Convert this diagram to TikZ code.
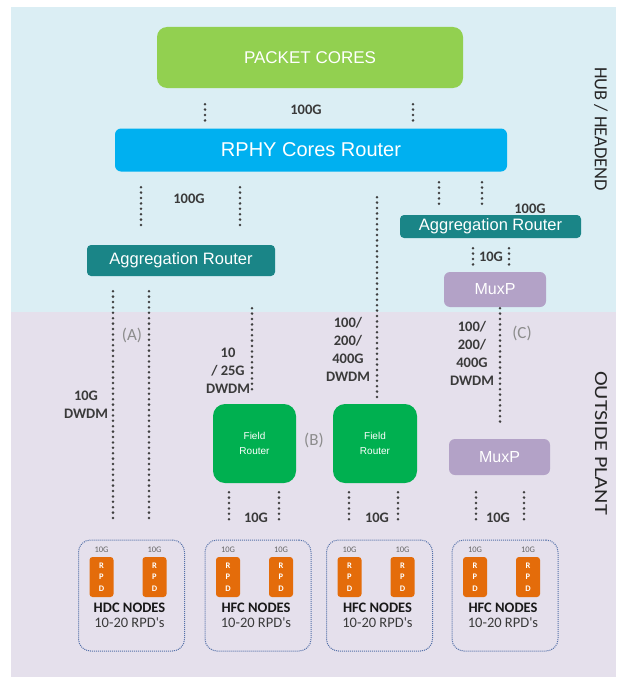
\documentclass[tikz,border=0pt]{standalone}
\usepackage{fontspec}
\setmainfont{Liberation Sans}
\newfontfamily\lblf{Carlito}
\definecolor{topbg}{HTML}{DBEEF4}
\definecolor{botbg}{HTML}{E5E0EC}
\definecolor{pcgreen}{HTML}{92D050}
\definecolor{rphyblue}{HTML}{00B0F0}
\definecolor{aggteal}{HTML}{1A8587}
\definecolor{muxpurple}{HTML}{B3A2C7}
\definecolor{frgreen}{HTML}{00B050}
\definecolor{rpdorange}{HTML}{E46C0A}
\definecolor{dotc}{HTML}{3F3F3F}
\definecolor{lblc}{HTML}{3A3A3A}
\definecolor{parc}{HTML}{8C8C8C}
\definecolor{boxline}{HTML}{5470A8}
\tikzset{
  blk/.style={inner sep=0pt, text=white, align=center},
  dotline/.style={draw=dotc, line width=2.8pt, line cap=round, dash pattern=on 0pt off 5.4pt},
  lbl/.style={inner sep=0pt, text=lblc, align=center, font=\lblf\fontsize{14.5}{18}\selectfont\bfseries},
  par/.style={inner sep=0pt, text=parc, font=\lblf\fontsize{17}{20}\selectfont},
  side/.style={inner sep=0pt, text=black!85, font=\lblf\fontsize{18.5}{22}\selectfont},
  nodebox/.style={draw=boxline, line width=1pt, dash pattern=on 1pt off 1pt, rounded corners=12pt, minimum width=106pt, minimum height=111pt, inner sep=0pt},
  rpd/.style={fill=rpdorange, rounded corners=3pt, minimum width=24pt, minimum height=40pt, inner sep=0pt, text=white, align=center, font=\lblf\fontsize{8.5}{11.5}\selectfont\bfseries},
  tinylbl/.style={inner sep=0pt, text=black!60, font=\lblf\fontsize{8.5}{9}\selectfont},
  nbtitle/.style={inner sep=0pt, text=black!90, font=\lblf\fontsize{14.5}{15}\selectfont\bfseries},
  nbsub/.style={inner sep=0pt, text=lblc, font=\lblf\fontsize{14.5}{15}\selectfont},
}
\begin{document}
\begin{tikzpicture}[x=1pt,y=-1pt]
\useasboundingbox (0,0) rectangle (616,677);
\fill[topbg] (11,7) rectangle (616,312);
\fill[botbg] (11,312) rectangle (616,677);

% main boxes
\node[blk, fill=pcgreen, rounded corners=10pt, minimum width=306pt, minimum height=61pt, font=\fontsize{17}{20}\selectfont] (pc) at (310,57.5) {PACKET CORES};
\node[blk, fill=rphyblue, rounded corners=6pt, minimum width=392pt, minimum height=43pt, font=\fontsize{20}{24}\selectfont] (rphy) at (311,150) {RPHY Cores Router};
\node[blk, fill=aggteal, rounded corners=4pt, minimum width=188pt, minimum height=31pt, font=\fontsize{16.5}{20}\selectfont] (ar1) at (181,260.5) {Aggregation Router};
\node[blk, fill=aggteal, rounded corners=4pt, minimum width=181pt, minimum height=23pt, font=\fontsize{16.5}{20}\selectfont] (ar2) at (490.5,226.5) {Aggregation Router};
\node[blk, fill=muxpurple, rounded corners=6pt, minimum width=102pt, minimum height=35pt, font=\fontsize{16}{20}\selectfont] (mux1) at (495,289.5) {MuxP};
\node[blk, fill=muxpurple, rounded corners=6pt, minimum width=101pt, minimum height=36pt, font=\fontsize{16}{20}\selectfont] (mux2) at (499.5,457) {MuxP};
\node[blk, fill=frgreen, rounded corners=12pt, minimum width=83pt, minimum height=79pt, font=\fontsize{10}{15}\selectfont] (fr1) at (254.5,443.5) {Field\\Router};
\node[blk, fill=frgreen, rounded corners=12pt, minimum width=84pt, minimum height=79pt, font=\fontsize{10}{15}\selectfont] (fr2) at (375,443.5) {Field\\Router};

% node groups
\foreach \n/\cx/\ttl in {1/131.5/HDC,2/258/HFC,3/379.5/HFC,4/505/HFC}{
  \node[nodebox] (nb\n) at (\cx,595.5) {};
  \node[rpd] (rpdA\n) at (\cx-30,577) {R\\P\\D};
  \node[rpd] (rpdB\n) at (\cx+23,577) {R\\P\\D};
  \node[tinylbl] (gA\n) at (\cx-30,550) {10G};
  \node[tinylbl] (gB\n) at (\cx+23,550) {10G};
  \node[nbtitle] (ttl\n) at (\cx-2,608) {\ttl\ NODES};
  \node[nbsub] (sub\n) at (\cx-2,622.5) {10-20 RPD's};
}

% x positions of links
\foreach \xx in {205,413,141,240,377,439,482,473,509,113,149,252,500,229,279,349,398,476,524}{
  \coordinate (x\xx) at (\xx,0);
}

% links
\draw[dotline, shorten <=16pt, shorten >=3.5pt] (pc.south -| x205) -- (rphy.north -| x205);
\draw[dotline, shorten <=16pt, shorten >=3.5pt] (pc.south -| x413) -- (rphy.north -| x413);
\draw[dotline, shorten <=15.5pt, shorten >=16pt] (rphy.south -| x141) -- (ar1.north -| x141);
\draw[dotline, shorten <=15.5pt, shorten >=16pt] (rphy.south -| x240) -- (ar1.north -| x240);
\draw[dotline, shorten <=25.5pt, shorten >=6pt] (rphy.south -| x377) -- (fr2.north -| x377);
\draw[dotline, shorten <=10.5pt, shorten >=7pt] (rphy.south -| x439) -- (ar2.north -| x439);
\draw[dotline, shorten <=10.5pt, shorten >=7pt] (rphy.south -| x482) -- (ar2.north -| x482);
\draw[dotline, shorten <=10pt, shorten >=7pt] (ar2.south -| x473) -- (mux1.north -| x473);
\draw[dotline, shorten <=10pt, shorten >=7pt] (ar2.south -| x509) -- (mux1.north -| x509);
\draw[dotline, shorten <=15pt, shorten >=17pt] (ar1.south -| x113) -- (nb1.north -| x113);
\draw[dotline, shorten <=15pt, shorten >=17pt] (ar1.south -| x149) -- (nb1.north -| x149);
\draw[dotline, shorten <=32pt, shorten >=11pt] (ar1.south -| x252) -- (fr1.north -| x252);
\draw[dotline, shorten <=1pt, shorten >=14pt] (mux1.south -| x500) -- (mux2.north -| x500);
\draw[dotline, shorten <=9pt, shorten >=17pt] (fr1.south -| x229) -- (nb2.north -| x229);
\draw[dotline, shorten <=9pt, shorten >=17pt] (fr1.south -| x279) -- (nb2.north -| x279);
\draw[dotline, shorten <=9pt, shorten >=17pt] (fr2.south -| x349) -- (nb3.north -| x349);
\draw[dotline, shorten <=9pt, shorten >=17pt] (fr2.south -| x398) -- (nb3.north -| x398);
\draw[dotline, shorten <=17pt, shorten >=17pt] (mux2.south -| x476) -- (nb4.north -| x476);
\draw[dotline, shorten <=17pt, shorten >=17pt] (mux2.south -| x524) -- (nb4.north -| x524);

% labels
\node[lbl] (l100a) at (306,110) {100G};
\node[lbl] (l100b) at (189,199) {100G};
\node[lbl] (l100c) at (530,209) {100G};
\node[lbl] (l10mux) at (491,257) {10G};
\node[lbl] (l10a) at (256,518) {10G};
\node[lbl] (l10b) at (377,518) {10G};
\node[lbl] (l10c) at (498,518) {10G};
\node[lbl] (ldw1) at (86,405) {10G\\DWDM};
\node[lbl] (ldw2) at (228,371) {10\\/ 25G\\DWDM};
\node[lbl] (ldw3) at (348,349) {100/\\200/\\400G\\DWDM};
\node[lbl] (ldw4) at (472,353) {100/\\200/\\400G\\DWDM};
\node[par] (pA) at (132,335) {(A)};
\node[par] (pB) at (314,440) {(B)};
\node[par] (pC) at (522,333) {(C)};

% side titles
\node[side, rotate=-90] (hub) at (601,129) {HUB / HEADEND};
\node[side, rotate=-90] (osp) at (601,443) {\scalebox{1.2}[1]{OUTSIDE PLANT}};
\end{tikzpicture}
\end{document}
